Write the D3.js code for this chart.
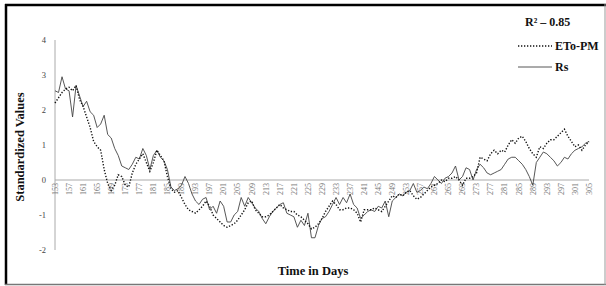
<!DOCTYPE html>
<html>
<head>
<meta charset="utf-8">
<script src="https://cdn.jsdelivr.net/npm/d3@7"></script>
<style>
  body { margin: 0; background: #fff; }
  text { font-family: "Liberation Serif", "Times New Roman", serif; }
</style>
</head>
<body>
<div id="chart"></div>
<script>
// Days of year 153..305
const firstDay = 153;
const tickDays = d3.range(153, 306, 4);
const yTicks = [-2, -1, 0, 1, 2, 3, 4];

// ETo-PM standardized values (dotted)
const etoPM = [
  2.2, 2.35, 2.5, 2.6, 2.65, 2.55, 2.7, 2.3, 2.1, 1.8,
  1.5, 1.1, 0.95, 0.85, 0.3, -0.1, -0.3, -0.15, 0.15, 0.1,
  -0.15, -0.2, 0.2, 0.45, 0.6, 0.75, 0.5, 0.25, 0.5, 0.85,
  0.7, 0.55, 0.1, -0.25, -0.35, -0.3, -0.5, -0.7, -0.85, -0.9,
  -0.95, -0.85, -0.75, -0.6, -0.75, -1.0, -1.1, -1.2, -1.3, -1.35,
  -1.3, -1.25, -1.15, -1.0, -0.85, -0.65, -0.6, -0.85, -0.95, -1.05,
  -1.05, -1.0, -0.9, -0.8, -0.7, -0.8, -0.85, -0.9, -0.9, -1.0,
  -1.05, -1.15, -1.25, -1.4, -1.35, -1.25, -1.1, -0.9, -0.75, -0.6,
  -0.7, -0.85, -0.85, -0.8, -0.8, -0.85, -0.95, -1.2, -0.85, -0.85,
  -0.85, -0.8, -0.85, -0.9, -0.75, -0.6, -0.45, -0.5, -0.4, -0.45,
  -0.35, -0.3, -0.45, -0.55, -0.5, -0.4, -0.3, -0.2, -0.15, -0.1,
  0.0, -0.05, 0.05, 0.05, 0.1, 0.0, -0.15, 0.05, 0.05, 0.1,
  0.2, 0.65, 0.6, 0.55, 0.75, 0.85, 0.75, 0.85, 0.8, 1.0,
  1.15, 1.05, 1.2, 1.25, 1.1, 0.9, 0.75, 0.65, 0.95, 0.9,
  1.05, 1.15, 1.15, 1.25, 1.35, 1.45, 1.25, 1.1, 0.95, 1.0,
  0.85, 1.0, 1.1
];

// Rs standardized values (solid)
const rs = [
  2.55, 2.5, 2.95, 2.6, 2.55, 1.8, 2.7, 2.4, 2.1, 2.25,
  1.95, 1.85, 1.5, 1.6, 1.85, 1.3, 1.2, 0.9, 0.7, 0.4,
  0.35, 0.3, 0.45, 0.65, 0.6, 0.9, 0.7, 0.3, 0.7, 0.85,
  0.65, 0.55, 0.3, -0.2, -0.3, -0.25, -0.15, 0.1, -0.1, -0.4,
  -0.6, -0.7, -0.55, -0.5, -0.85, -0.75, -0.95, -0.6, -0.75, -1.2,
  -1.2, -1.0, -0.9, -0.5, -0.75, -0.5, -0.65, -0.8, -0.9, -1.1,
  -1.25, -1.05, -0.9, -0.8, -0.7, -0.65, -0.95, -1.0, -1.05, -1.35,
  -1.15, -1.3, -0.95, -1.65, -1.65, -1.3, -1.1, -1.05, -0.9, -0.7,
  -0.5, -0.7, -0.5, -0.65, -0.4, -0.7, -0.8, -1.1, -1.0, -0.9,
  -0.85, -0.9, -0.75, -0.8, -0.6, -1.05, -0.6, -0.5, -0.4, -0.45,
  -0.35, -0.3, -0.1, -0.35, -0.3, -0.2, -0.25, -0.1, 0.1, 0.0,
  -0.1, 0.05, 0.1, 0.2, 0.4, 0.0, 0.1, 0.35, 0.3, 0.0,
  0.3, 0.45, 0.35, 0.2, 0.15, 0.2, 0.25, 0.3, 0.45, 0.6,
  0.65, 0.65, 0.55, 0.45, 0.3, 0.1, -0.15, 0.5, 0.65, 0.8,
  0.75, 0.65, 0.55, 0.4, 0.5, 0.65, 0.6, 0.75, 0.85, 0.9,
  0.95, 1.05, 1.1
];

const width = 606;
const height = 286;

const svg = d3.select('#chart')
  .append('svg')
  .attr('width', width)
  .attr('height', height);

// Frame
svg.append('line').attr('x1', 5).attr('x2', 606).attr('y1', 5).attr('y2', 5)
  .attr('stroke', '#000').attr('stroke-width', 2.5);
svg.append('line').attr('x1', 6).attr('x2', 6).attr('y1', 4).attr('y2', 285)
  .attr('stroke', '#000').attr('stroke-width', 2.5);
svg.append('line').attr('x1', 5).attr('x2', 606).attr('y1', 284.5).attr('y2', 284.5)
  .attr('stroke', '#777').attr('stroke-width', 1.5);
svg.append('line').attr('x1', 605).attr('x2', 605).attr('y1', 4).attr('y2', 285)
  .attr('stroke', '#999').attr('stroke-width', 1);

const x = d3.scaleLinear().domain([153, 305]).range([55, 589]);
const y = d3.scaleLinear().domain([-2, 4]).range([250, 40]);

// Y axis line
svg.append('line')
  .attr('x1', x(153)).attr('x2', x(153))
  .attr('y1', y(4)).attr('y2', y(-2))
  .attr('stroke', '#aaa').attr('stroke-width', 1);

// Zero line
svg.append('line')
  .attr('x1', x(153)).attr('x2', x(305))
  .attr('y1', y(0)).attr('y2', y(0))
  .attr('stroke', '#aaa').attr('stroke-width', 1);

// Y tick labels
svg.append('g')
  .selectAll('text')
  .data(yTicks)
  .enter()
  .append('text')
  .attr('x', 46)
  .attr('y', d => y(d) + 3)
  .attr('text-anchor', 'end')
  .attr('font-size', 8.5)
  .attr('fill', '#444')
  .text(d => d);

// X tick labels, rotated
svg.append('g')
  .selectAll('text')
  .data(tickDays)
  .enter()
  .append('text')
  .attr('transform', d => `translate(${x(d) + 2.8},${y(0) + 3}) rotate(-90)`)
  .attr('text-anchor', 'end')
  .attr('font-size', 8)
  .attr('fill', '#777')
  .text(d => d);

// Series
const line = d3.line()
  .x((d, i) => x(firstDay + i))
  .y(d => y(d));

svg.append('path')
  .datum(rs)
  .attr('d', line)
  .attr('fill', 'none')
  .attr('stroke', '#444')
  .attr('stroke-width', 0.9);

svg.append('path')
  .datum(etoPM)
  .attr('d', line)
  .attr('fill', 'none')
  .attr('stroke', '#111')
  .attr('stroke-width', 1.4)
  .attr('stroke-dasharray', '1.3,1.7');

// Axis titles
svg.append('text')
  .attr('transform', 'translate(24,147) rotate(-90)')
  .attr('text-anchor', 'middle')
  .attr('font-size', 12.5)
  .attr('font-weight', 'bold')
  .attr('fill', '#111')
  .text('Standardized Values');

svg.append('text')
  .attr('x', 313)
  .attr('y', 275)
  .attr('text-anchor', 'middle')
  .attr('font-size', 12.5)
  .attr('font-weight', 'bold')
  .attr('fill', '#111')
  .text('Time in Days');

// Legend
const legend = svg.append('g');
legend.append('text')
  .attr('x', 525).attr('y', 26)
  .attr('font-size', 12).attr('font-weight', 'bold').attr('fill', '#111')
  .text('R² – 0.85');

legend.append('line')
  .attr('x1', 518).attr('x2', 552).attr('y1', 46).attr('y2', 46)
  .attr('stroke', '#111').attr('stroke-width', 1.4).attr('stroke-dasharray', '1.3,1.7');
legend.append('text')
  .attr('x', 555).attr('y', 50)
  .attr('font-size', 12).attr('font-weight', 'bold').attr('fill', '#111')
  .text('ETo-PM');

legend.append('line')
  .attr('x1', 518).attr('x2', 552).attr('y1', 67).attr('y2', 67)
  .attr('stroke', '#444').attr('stroke-width', 0.9);
legend.append('text')
  .attr('x', 555).attr('y', 71)
  .attr('font-size', 12).attr('font-weight', 'bold').attr('fill', '#111')
  .text('Rs');
</script>
</body>
</html>
